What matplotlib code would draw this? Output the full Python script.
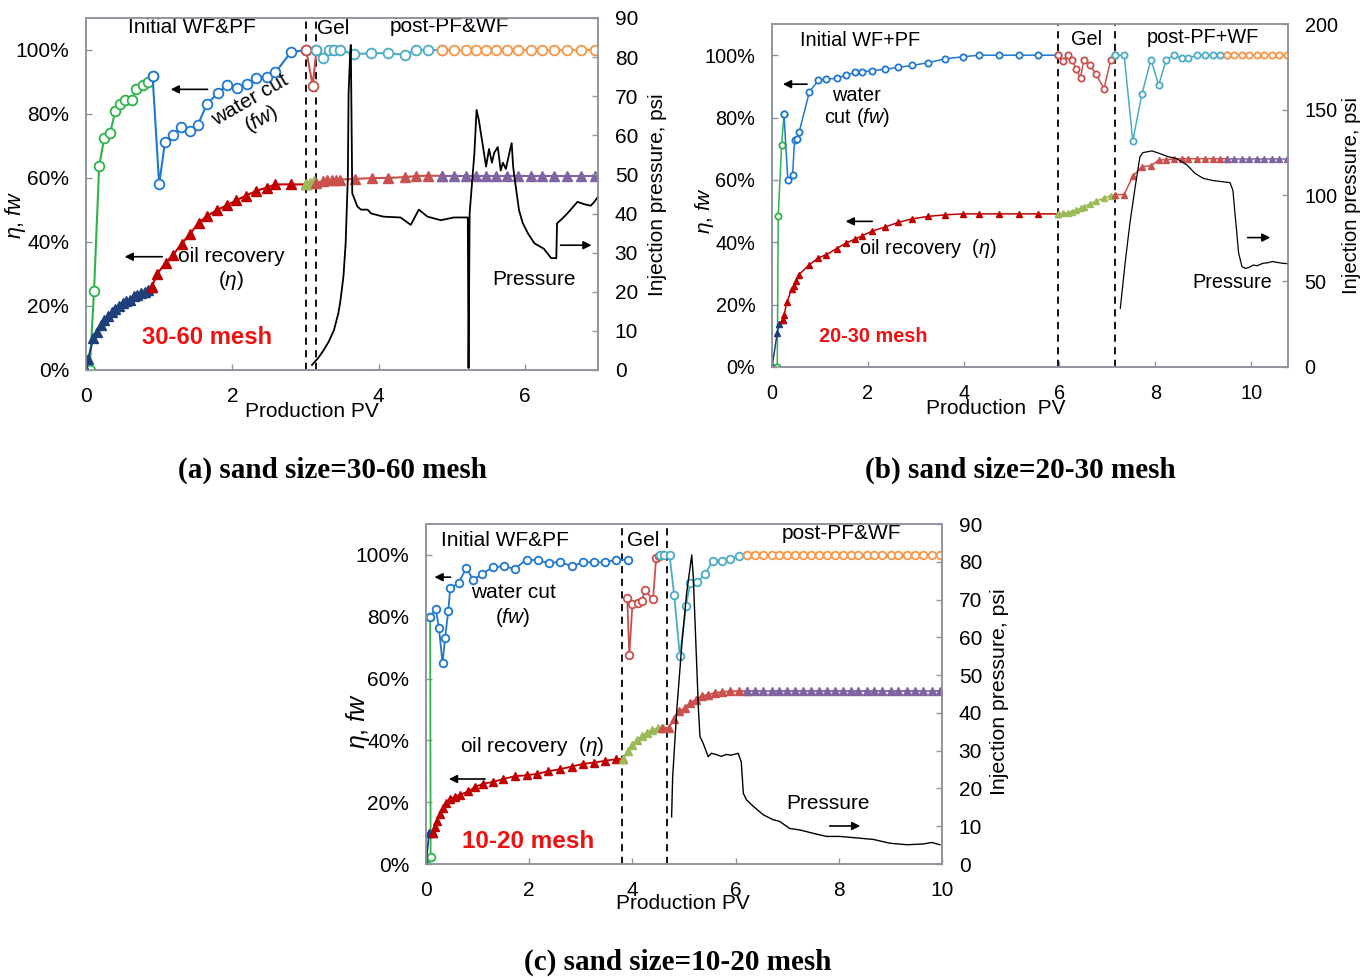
import matplotlib
matplotlib.use("Agg")
import matplotlib.pyplot as plt

plt.rcParams['font.family'] = ['Liberation Sans', 'DejaVu Sans']
plt.rcParams['mathtext.fontset'] = 'custom'
plt.rcParams['mathtext.rm'] = 'Liberation Sans'
plt.rcParams['mathtext.it'] = 'Liberation Sans:italic'

# --- colours ---
GREEN = '#2cb34a'
BLUE = '#1f78d0'
GELRED = '#c9504d'
CYAN = '#4bacc6'
ORANGE = '#f79646'
NAVY = '#1f3f7a'
RED = '#c00000'
OLIVE = '#9bbb59'
PURPLE = '#8064a2'
SPINE = '#8f959e'

# ================= (a) 30-60 mesh =================
a_wf_x = [0, 0.05, 0.11, 0.18, 0.25, 0.33, 0.40, 0.47, 0.54, 0.63, 0.69, 0.78, 0.85, 0.91]
a_wf_y = [0, 0, 0.248, 0.638, 0.726, 0.74, 0.81, 0.83, 0.845, 0.845, 0.877, 0.89, 0.90, 0.92]
a_pf_x = [0.91, 1.0, 1.08, 1.19, 1.30, 1.42, 1.53, 1.65, 1.80, 1.93, 2.06, 2.20, 2.33, 2.47, 2.59, 2.80, 3.01]
a_pf_y = [0.92, 0.58, 0.713, 0.734, 0.758, 0.748, 0.766, 0.83, 0.865, 0.89, 0.88, 0.893, 0.913, 0.917, 0.93, 0.993, 1.0]
a_gel_x = [3.01, 3.10, 3.15]
a_gel_y = [1.0, 0.888, 1.0]
a_ppf_x = [3.15, 3.24, 3.32, 3.39, 3.47, 3.66, 3.90, 4.13, 4.36, 4.51, 4.67, 4.87]
a_ppf_y = [1.0, 0.974, 1.0, 1.0, 1.0, 0.987, 0.99, 0.99, 0.985, 1.0, 1.0, 1.0]
a_pwf_x = [4.87, 5.03, 5.19, 5.33, 5.47, 5.60, 5.76, 5.90, 6.08, 6.24, 6.40, 6.58, 6.77, 6.96]
a_pwf_y = [1.0, 1.0, 1.0, 1.0, 1.0, 1.0, 1.0, 1.0, 1.0, 1.0, 1.0, 1.0, 1.0, 1.0]

a_rwf_x = [0, 0.03, 0.1, 0.15, 0.2, 0.25, 0.3, 0.35, 0.4, 0.45, 0.5, 0.55, 0.6, 0.65, 0.7, 0.75, 0.8, 0.85, 0.9]
a_rwf_y = [0, 0.035, 0.10, 0.12, 0.14, 0.155, 0.17, 0.18, 0.19, 0.20, 0.21, 0.215, 0.22, 0.23, 0.235, 0.24, 0.245, 0.25, 0.26]
a_rpf_x = [0.9, 0.97, 1.09, 1.19, 1.31, 1.42, 1.54, 1.65, 1.79, 1.93, 2.05, 2.19, 2.33, 2.47, 2.59, 2.80, 3.01]
a_rpf_y = [0.26, 0.30, 0.335, 0.36, 0.395, 0.425, 0.46, 0.48, 0.50, 0.515, 0.53, 0.545, 0.56, 0.57, 0.58, 0.58, 0.58]
a_rgel_x = [3.01, 3.06, 3.12]
a_rgel_y = [0.58, 0.585, 0.59]
a_rppf_x = [3.15, 3.24, 3.30, 3.36, 3.42, 3.47, 3.68, 3.91, 4.13, 4.36, 4.51, 4.67, 4.87]
a_rppf_y = [0.585, 0.59, 0.593, 0.594, 0.595, 0.595, 0.597, 0.6, 0.6, 0.603, 0.606, 0.607, 0.607]
a_rpwf_x = [4.87, 5.03, 5.19, 5.33, 5.47, 5.60, 5.76, 5.90, 6.08, 6.24, 6.40, 6.58, 6.77, 6.96]
a_rpwf_y = [0.607] * 14

a_p_x = [3.09, 3.18, 3.25, 3.32, 3.39, 3.45, 3.48, 3.52, 3.55, 3.58, 3.59, 3.61, 3.62, 3.63, 3.64,
         3.71, 3.76, 3.85, 3.90, 4.07, 4.30, 4.44, 4.55, 4.67, 4.85, 5.03, 5.17, 5.22, 5.23, 5.245,
         5.27, 5.31, 5.34, 5.37, 5.42, 5.47, 5.51, 5.55, 5.58, 5.63, 5.67, 5.70, 5.74, 5.80, 5.82,
         5.84, 5.86, 5.92, 5.97, 6.04, 6.13, 6.26, 6.36, 6.43, 6.44, 6.50, 6.58, 6.72, 6.81, 6.90,
         6.95, 7.0]
a_p_y = [1.3, 3.2, 5.1, 7.3, 10.2, 14.5, 17.9, 24, 32.4, 49.4, 70.7, 80, 83.1, 65, 45.2,
         41.8, 41, 41, 40, 39.2, 39, 37.1, 41, 39.2, 38.3, 39, 39, 39, 0.5, 40,
         46, 55.4, 66.5, 64, 58, 52, 56.5, 53, 55.5, 57, 51, 53, 51.4, 56.5, 58,
         52, 49, 40.9, 37.6, 35, 32.4, 31, 28.6, 28.6, 37.5, 38.5, 40, 43, 42.4, 42,
         43, 44.3]

# ================= (b) 20-30 mesh =================
b_wf_x = [0, 0.11, 0.13, 0.20, 0.25]
b_wf_y = [0, 0, 0.483, 0.711, 0.81]
b_pf_x = [0.25, 0.33, 0.43, 0.47, 0.53, 0.57, 0.78, 0.97, 1.13, 1.35, 1.54, 1.73, 1.87, 2.08, 2.36,
          2.64, 2.92, 3.26, 3.61, 3.98, 4.33, 4.73, 5.15, 5.55, 5.96]
b_pf_y = [0.81, 0.60, 0.617, 0.727, 0.73, 0.755, 0.882, 0.92, 0.923, 0.926, 0.935, 0.945, 0.947, 0.95, 0.955,
          0.961, 0.967, 0.976, 0.988, 0.995, 1.0, 1.0, 1.0, 1.0, 1.0]
b_gel_x = [5.96, 6.07, 6.17, 6.26, 6.34, 6.44, 6.51, 6.64, 6.76, 6.93, 7.07, 7.16]
b_gel_y = [1.0, 0.982, 1.0, 0.986, 0.957, 0.928, 0.986, 0.968, 0.939, 0.893, 0.984, 1.0]
b_ppf_x = [7.16, 7.35, 7.53, 7.72, 7.91, 8.07, 8.23, 8.39, 8.55, 8.69, 8.87, 9.04, 9.20, 9.35, 9.49]
b_ppf_y = [1.0, 1.0, 0.725, 0.875, 0.986, 0.904, 0.986, 1.0, 0.99, 0.99, 1.0, 1.0, 1.0, 1.0, 1.0]
b_pwf_x = [9.49, 9.65, 9.80, 9.96, 10.12, 10.27, 10.43, 10.59, 10.75]
b_pwf_y = [1.0] * 9

b_rwf_x = [0, 0.11, 0.15, 0.22]
b_rwf_y = [0, 0.11, 0.138, 0.151]
b_rpf_x = [0.22, 0.25, 0.31, 0.41, 0.45, 0.50, 0.56, 0.78, 0.97, 1.13, 1.35, 1.54, 1.73, 1.87, 2.08,
           2.36, 2.64, 2.92, 3.26, 3.61, 3.98, 4.33, 4.73, 5.15, 5.55, 5.96]
b_rpf_y = [0.151, 0.167, 0.207, 0.25, 0.26, 0.275, 0.296, 0.328, 0.35, 0.36, 0.38, 0.397, 0.41, 0.42, 0.435,
           0.449, 0.464, 0.475, 0.483, 0.488, 0.491, 0.491, 0.491, 0.491, 0.491, 0.491]
b_rgel_x = [5.96, 6.07, 6.17, 6.26, 6.34, 6.44, 6.51, 6.64, 6.76, 6.93, 7.07, 7.16]
b_rgel_y = [0.491, 0.493, 0.495, 0.498, 0.503, 0.509, 0.514, 0.523, 0.532, 0.541, 0.55, 0.553]
b_rppf_x = [7.16, 7.35, 7.53, 7.72, 7.91, 8.07, 8.23, 8.39, 8.55, 8.69, 8.87, 9.04, 9.20, 9.35, 9.49]
b_rppf_y = [0.553, 0.553, 0.612, 0.642, 0.646, 0.663, 0.665, 0.667, 0.668, 0.668, 0.668, 0.668, 0.668, 0.668, 0.668]
b_rpwf_x = [9.49, 9.65, 9.80, 9.96, 10.12, 10.27, 10.43, 10.59, 10.75]
b_rpwf_y = [0.668] * 9

b_p_x = [7.27, 7.37, 7.47, 7.58, 7.68, 7.74, 7.93, 8.10, 8.27, 8.44, 8.66, 8.83, 9.00, 9.21, 9.56,
         9.62, 9.67, 9.74, 9.81, 9.88, 9.95, 10.05, 10.12, 10.25, 10.33, 10.45, 10.54, 10.65, 10.78]
b_p_y = [34.2, 60.5, 83.8, 105, 122.6, 125, 126, 124.4, 122.6, 121.6, 117.8, 112.9, 110, 108.7, 107.5,
         103, 87.6, 66.3, 58.5, 57.5, 58, 59.5, 59, 60.5, 60.7, 61.5, 61, 60.5, 60.2]

# ================= (c) 10-20 mesh =================
c_wf_x = [0, 0.09, 0.08]
c_wf_y = [0, 0.024, 0.80]
c_pf_x = [0.08, 0.19, 0.25, 0.32, 0.37, 0.43, 0.47, 0.63, 0.78, 0.92, 1.08, 1.29, 1.51, 1.72, 1.95,
          2.18, 2.39, 2.60, 2.82, 3.04, 3.26, 3.47, 3.68, 3.92]
c_pf_y = [0.80, 0.825, 0.765, 0.65, 0.73, 0.817, 0.892, 0.909, 0.957, 0.919, 0.938, 0.96, 0.963, 0.955, 0.985,
          0.982, 0.973, 0.978, 0.963, 0.976, 0.976, 0.976, 0.984, 0.984]
c_gel_x = [3.90, 3.94, 4.00, 4.10, 4.18, 4.24, 4.40, 4.46, 4.52, 4.60]
c_gel_y = [0.86, 0.675, 0.84, 0.845, 0.85, 0.885, 0.857, 0.99, 0.995, 1.0]
c_ppf_x = [4.53, 4.62, 4.72, 4.81, 4.92, 5.04, 5.12, 5.26, 5.41, 5.56, 5.73, 5.89, 6.07, 6.23]
c_ppf_y = [1.0, 1.0, 1.0, 0.87, 0.673, 0.835, 0.909, 0.913, 0.938, 0.981, 0.981, 0.987, 0.995, 1.0]
c_pwf_x = [6.23, 6.38, 6.54, 6.70, 6.85, 7.00, 7.15, 7.31, 7.46, 7.62, 7.77, 7.93, 8.08, 8.23, 8.38,
           8.54, 8.69, 8.84, 9.01, 9.15, 9.32, 9.48, 9.64, 9.80, 9.96]
c_pwf_y = [1.0] * 25

c_rwf_x = [0, 0.06, 0.14]
c_rwf_y = [0, 0.10, 0.10]
c_rpf_x = [0.14, 0.17, 0.22, 0.27, 0.33, 0.38, 0.47, 0.56, 0.66, 0.82, 0.95, 1.11, 1.29, 1.50, 1.72,
           1.95, 2.16, 2.37, 2.60, 2.82, 3.04, 3.26, 3.47, 3.68, 3.82]
c_rpf_y = [0.10, 0.12, 0.14, 0.162, 0.18, 0.196, 0.21, 0.218, 0.224, 0.235, 0.249, 0.26, 0.265, 0.275, 0.284,
           0.287, 0.292, 0.30, 0.307, 0.315, 0.324, 0.328, 0.334, 0.339, 0.34]
c_rgel_x = [3.82, 3.92, 3.99, 4.09, 4.18, 4.28, 4.38, 4.50, 4.60]
c_rgel_y = [0.34, 0.365, 0.386, 0.402, 0.413, 0.424, 0.435, 0.44, 0.44]
c_rppf_x = [4.57, 4.70, 4.81, 4.91, 5.02, 5.12, 5.23, 5.34, 5.47, 5.60, 5.73, 5.89, 6.07, 6.23]
c_rppf_y = [0.44, 0.44, 0.468, 0.494, 0.505, 0.522, 0.532, 0.543, 0.548, 0.554, 0.556, 0.559, 0.559, 0.559]
c_rpwf_x = c_pwf_x
c_rpwf_y = [0.559] * 25

c_p_x = [4.76, 4.78, 4.86, 4.96, 5.05, 5.15, 5.18, 5.23, 5.28, 5.31, 5.37, 5.47, 5.53, 5.62, 5.72,
         5.82, 5.91, 6.05, 6.11, 6.15, 6.21, 6.34, 6.54, 6.73, 6.85, 7.05, 7.25, 7.51, 7.76, 8.02,
         8.35, 8.67, 8.99, 9.32, 9.64, 9.80, 9.96]
c_p_y = [12.5, 23, 40.8, 58.4, 71.6, 81.8, 76, 58.4, 40.8, 33.7, 32, 28.4, 29.3, 29, 28.5,
         29, 28.8, 29.3, 27, 18.7, 17, 15.3, 13, 11.7, 11.3, 9.4, 9, 8.1, 7.3, 7.3,
         6.9, 6.5, 5.5, 5.1, 5.3, 5.7, 5.1]

pct_ticks = [0, 0.2, 0.4, 0.6, 0.8, 1.0]
pct_labels = ['0%', '20%', '40%', '60%', '80%', '100%']


def style_axes(ax, ax2, fs):
    for a in (ax, ax2):
        for s in a.spines.values():
            s.set_color(SPINE)
            s.set_linewidth(1.2)
        a.tick_params(direction='in', length=4, width=1, color=SPINE, labelsize=fs, pad=12)


def draw_panel(ax, wc, oil, ms_c, ms_t, lw):
    # wc / oil: list of (x, y, colour)
    for x, y, col in wc:
        ax.plot(x, y, '-', color=col, lw=lw, marker='o', ms=ms_c, mfc='white',
                mec=col, mew=1.3, zorder=3)
    for x, y, col in oil:
        ax.plot(x, y, '-', color=col, lw=lw, marker='^', ms=ms_t, mfc=col,
                mec=col, zorder=3)


def arrow(ax, x0, x1, y):
    ax.annotate('', xy=(x1, y), xytext=(x0, y),
                arrowprops=dict(arrowstyle='-|>', color='black', lw=1.2, mutation_scale=12))


fig = plt.figure(figsize=(13.7, 9.77), dpi=100)

# ---------- (a) ----------
fs = 15
ax = fig.add_axes([86 / 1370, 1 - 370 / 977, 512 / 1370, 352 / 977])
ax2 = ax.twinx()
draw_panel(ax,
           [(a_wf_x, a_wf_y, GREEN), (a_pf_x, a_pf_y, BLUE), (a_gel_x, a_gel_y, GELRED),
            (a_ppf_x, a_ppf_y, CYAN), (a_pwf_x, a_pwf_y, ORANGE)],
           [(a_rwf_x, a_rwf_y, NAVY), (a_rpf_x, a_rpf_y, RED), (a_rgel_x, a_rgel_y, OLIVE),
            (a_rppf_x, a_rppf_y, GELRED), (a_rpwf_x, a_rpwf_y, PURPLE)], 7, 7, 1.5)
ax2.plot(a_p_x, a_p_y, color='black', lw=1.3)
ax.axvline(3.01, color='black', ls='--', lw=1.3, dashes=(4, 3))
ax.axvline(3.15, color='black', ls='--', lw=1.3, dashes=(4, 3))
ax.set_xlim(0, 7)
ax.set_ylim(0, 1.1)
ax2.set_ylim(0, 90)
ax.set_xticks([0, 2, 4, 6])
ax.set_yticks(pct_ticks)
ax.set_yticklabels(pct_labels)
ax2.set_yticks(range(0, 91, 10))
style_axes(ax, ax2, fs)
ax.text(1.45, 1.069, 'Initial WF&PF', fontsize=fs, ha='center', va='center')
ax.text(3.38, 1.066, 'Gel', fontsize=fs, ha='center', va='center')
ax.text(4.97, 1.072, 'post-PF&WF', fontsize=fs, ha='center', va='center')
ax.text(2.33, 0.81, 'water cut\n($fw$)', fontsize=fs, ha='center', va='center',
        rotation=30, rotation_mode='anchor', linespacing=1.05)
ax.text(1.99, 0.356, 'oil recovery', fontsize=fs, ha='center', va='center')
ax.text(1.99, 0.28, '($\\eta$)', fontsize=fs, ha='center', va='center')
ax.text(6.12, 0.284, 'Pressure', fontsize=fs, ha='center', va='center')
ax.text(1.66, 0.10, '30-60 mesh', fontsize=17.2, fontweight='bold', color='#ee1111',
        ha='center', va='center')
arrow(ax, 1.70, 1.12, 0.877)
arrow(ax, 1.08, 0.49, 0.354)
arrow(ax, 6.45, 6.95, 0.39)
ax.text(-0.137, 0.44, '$\\eta$, $fw$', fontsize=15.5, rotation=90, ha='center', va='center',
        transform=ax.transAxes)
ax.text(1.117, 0.497, 'Injection pressure, psi', fontsize=15, rotation=90, ha='center',
        va='center', transform=ax.transAxes)
ax.text(0.441, -0.119, 'Production PV', fontsize=15, ha='center', va='center',
        transform=ax.transAxes)

# ---------- (b) ----------
fs = 14.3
ax = fig.add_axes([772 / 1370, 1 - 367 / 977, 516 / 1370, 343 / 977])
ax2 = ax.twinx()
draw_panel(ax,
           [(b_wf_x, b_wf_y, GREEN), (b_pf_x, b_pf_y, BLUE), (b_gel_x, b_gel_y, GELRED),
            (b_ppf_x, b_ppf_y, CYAN), (b_pwf_x, b_pwf_y, ORANGE)],
           [(b_rwf_x, b_rwf_y, NAVY), (b_rpf_x, b_rpf_y, RED), (b_rgel_x, b_rgel_y, OLIVE),
            (b_rppf_x, b_rppf_y, GELRED), (b_rpwf_x, b_rpwf_y, PURPLE)], 4.5, 5, 1.1)
ax2.plot(b_p_x, b_p_y, color='black', lw=0.9)
ax.axvline(5.97, color='black', ls='--', lw=1.3, dashes=(4, 3))
ax.axvline(7.15, color='black', ls='--', lw=1.3, dashes=(4, 3))
ax.set_xlim(0, 10.77)
ax.set_ylim(0, 1.1)
ax2.set_ylim(0, 200)
ax.set_xticks([0, 2, 4, 6, 8, 10])
ax.set_yticks(pct_ticks)
ax.set_yticklabels(pct_labels)
ax2.set_yticks(range(0, 201, 50))
style_axes(ax, ax2, fs)
ax.text(1.84, 1.046, 'Initial WF+PF', fontsize=fs, ha='center', va='center')
ax.text(6.57, 1.051, 'Gel', fontsize=fs, ha='center', va='center')
ax.text(9.0, 1.058, 'post-PF+WF', fontsize=fs, ha='center', va='center')
ax.text(1.77, 0.872, 'water', fontsize=fs, ha='center', va='center')
ax.text(1.77, 0.80, 'cut ($fw$)', fontsize=fs, ha='center', va='center')
ax.text(3.26, 0.379, 'oil recovery  ($\\eta$)', fontsize=fs, ha='center', va='center')
ax.text(9.6, 0.271, 'Pressure', fontsize=fs, ha='center', va='center')
ax.text(2.11, 0.097, '20-30 mesh', fontsize=14.3, fontweight='bold', color='#ee1111',
        ha='center', va='center')
arrow(ax, 0.79, 0.17, 0.907)
arrow(ax, 2.15, 1.48, 0.467)
arrow(ax, 9.87, 10.46, 0.415)
ax.text(-0.13, 0.458, '$\\eta$, $fw$', fontsize=15, rotation=90, ha='center', va='center',
        transform=ax.transAxes)
ax.text(1.124, 0.5, 'Injection pressure, psi', fontsize=14.6, rotation=90, ha='center',
        va='center', transform=ax.transAxes)
ax.text(0.434, -0.12, 'Production  PV', fontsize=15, ha='center', va='center',
        transform=ax.transAxes)

# ---------- (c) ----------
fs = 15
ax = fig.add_axes([426 / 1370, 1 - 864 / 977, 516 / 1370, 340 / 977])
ax2 = ax.twinx()
draw_panel(ax,
           [(c_wf_x, c_wf_y, GREEN), (c_pf_x, c_pf_y, BLUE), (c_gel_x, c_gel_y, GELRED),
            (c_ppf_x, c_ppf_y, CYAN), (c_pwf_x, c_pwf_y, ORANGE)],
           [(c_rwf_x, c_rwf_y, NAVY), (c_rpf_x, c_rpf_y, RED), (c_rgel_x, c_rgel_y, OLIVE),
            (c_rppf_x, c_rppf_y, GELRED), (c_rpwf_x, c_rpwf_y, PURPLE)], 5.5, 6, 1.3)
ax2.plot(c_p_x, c_p_y, color='black', lw=1.0)
ax.axvline(3.8, color='black', ls='--', lw=1.3, dashes=(4, 3))
ax.axvline(4.68, color='black', ls='--', lw=1.3, dashes=(4, 3))
ax.set_xlim(0, 10)
ax.set_ylim(0, 1.1)
ax2.set_ylim(0, 90)
ax.set_xticks([0, 2, 4, 6, 8, 10])
ax.set_yticks(pct_ticks)
ax.set_yticklabels(pct_labels)
ax2.set_yticks(range(0, 91, 10))
style_axes(ax, ax2, fs)
ax.text(1.53, 1.046, 'Initial WF&PF', fontsize=fs, ha='center', va='center')
ax.text(4.21, 1.046, 'Gel', fontsize=fs, ha='center', va='center')
ax.text(8.06, 1.068, 'post-PF&WF', fontsize=fs, ha='center', va='center')
ax.text(1.69, 0.879, 'water cut', fontsize=fs, ha='center', va='center')
ax.text(1.69, 0.798, '($fw$)', fontsize=fs, ha='center', va='center')
ax.text(2.05, 0.379, 'oil recovery  ($\\eta$)', fontsize=fs, ha='center', va='center')
ax.text(7.80, 0.197, 'Pressure', fontsize=fs, ha='center', va='center')
ax.text(1.98, 0.072, '10-20 mesh', fontsize=17.5, fontweight='bold', color='#ee1111',
        ha='center', va='center')
arrow(ax, 0.53, 0.11, 0.928)
arrow(ax, 1.20, 0.39, 0.275)
arrow(ax, 7.77, 8.47, 0.123)
ax.text(-0.132, 0.42, '$\\eta$, $fw$', fontsize=18, rotation=90, ha='center', va='center',
        transform=ax.transAxes)
ax.text(1.112, 0.506, 'Injection pressure, psi', fontsize=15.3, rotation=90, ha='center',
        va='center', transform=ax.transAxes)
ax.text(0.498, -0.115, 'Production PV', fontsize=15, ha='center', va='center',
        transform=ax.transAxes)

# ---------- captions ----------
cap = dict(fontsize=21, fontweight='bold', family='Liberation Serif', ha='center', va='center')
fig.text(332 / 1370, 1 - 470 / 977, '(a) sand size=30-60 mesh', **cap)
fig.text(1020 / 1370, 1 - 470 / 977, '(b) sand size=20-30 mesh', **cap)
fig.text(678 / 1370, 1 - 962 / 977, '(c) sand size=10-20 mesh', **cap)

fig.savefig('out.png', dpi=100)
